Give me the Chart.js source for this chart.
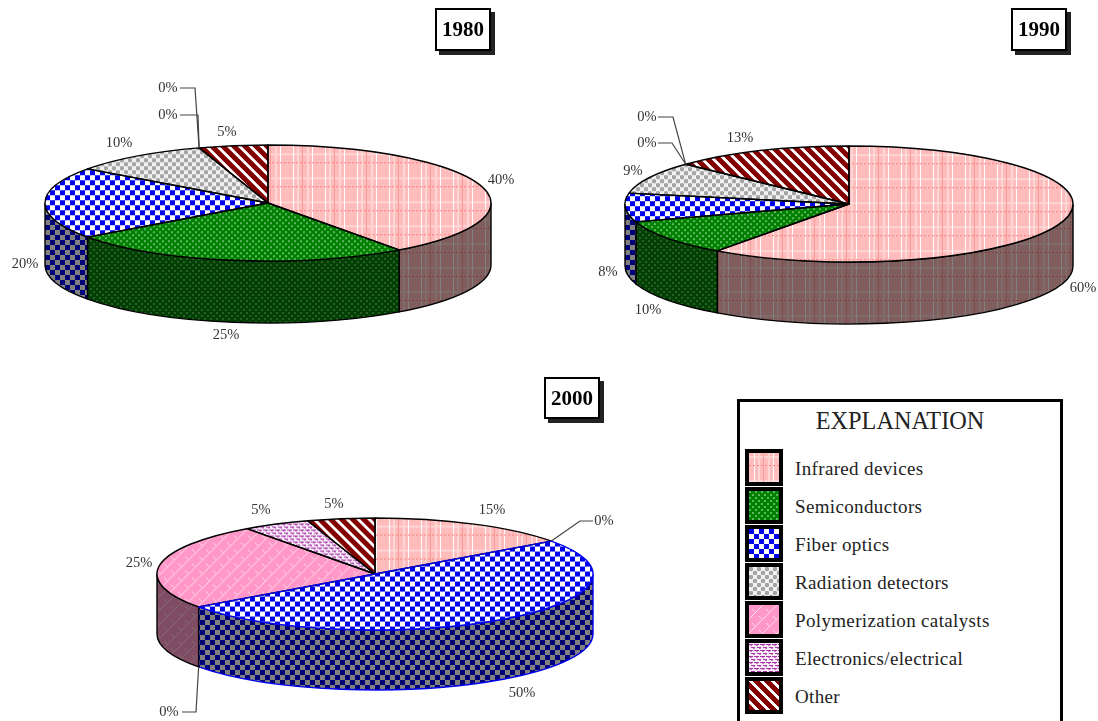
<!DOCTYPE html>
<html>
<head>
<meta charset="utf-8">
<title>Market share by application</title>
<script src="https://cdn.jsdelivr.net/npm/chart.js@4/dist/chart.umd.js"></script>
<style>
  html, body { margin: 0; padding: 0; background: #fff; }
  #page { position: relative; width: 1098px; height: 721px; overflow: hidden; background: #fff;
          font-family: "Liberation Serif", serif; color: #222; filter: blur(0.6px); }
  #page canvas { position: absolute; left: 0; top: 0; }
  .year { position: absolute; box-sizing: border-box; border: 2px solid #000; background: #fff;
          box-shadow: 4px 4px 0 #222; font-weight: bold; font-size: 21px; text-align: center; color: #000; }
  #legend { position: absolute; left: 737px; top: 399px; width: 326px; height: 340px; box-sizing: border-box;
            border: 3px solid #000; background: #fff; }
  #legend h2 { position: absolute; left: 0; right: 0; top: 4px; margin: 0; text-align: center;
               font-weight: normal; font-size: 24.3px; line-height: 30px; }
  .swatch { position: absolute; left: 5px; width: 38px; height: 37px; box-sizing: border-box; border: 4px solid #000; }
  .item { position: absolute; left: 55px; font-size: 19px; line-height: 24px; letter-spacing: 0.35px; white-space: nowrap; }
</style>
</head>
<body>
<div id="page">
  <canvas id="pie-1980" width="1098" height="721"></canvas>
  <canvas id="pie-1990" width="1098" height="721"></canvas>
  <canvas id="pie-2000" width="1098" height="721"></canvas>
  <div class="year" style="left:435px;top:8px;width:56px;height:43px;line-height:39px">1980</div>
  <div class="year" style="left:1011px;top:8px;width:56px;height:43px;line-height:39px">1990</div>
  <div class="year" style="left:544px;top:377px;width:56px;height:42px;line-height:38px">2000</div>
  <div id="legend"><h2>EXPLANATION</h2></div>
</div>

<script>
/* ── Data ─────────────────────────────────────────────────────── */
const categories = ['Infrared devices', 'Semiconductors', 'Fiber optics', 'Radiation detectors',
                    'Polymerization catalysts', 'Electronics/electrical', 'Other'];
const values1980 = [40, 25, 20, 10, 0, 0, 5];
const values1990 = [60, 10, 8, 9, 0, 0, 13];
const values2000 = [15, 0, 50, 0, 25, 5, 5];

/* ── Hatch tiles ──────────────────────────────────────────────── */
function makeTile(w, h, paint, shade) {
  const c = document.createElement('canvas');
  c.width = w; c.height = h;
  const g = c.getContext('2d');
  paint(g, w, h);
  if (shade) {
    const img = g.getImageData(0, 0, w, h);
    for (let i = 0; i < img.data.length; i += 4) {
      img.data[i] *= 0.5; img.data[i + 1] *= 0.5; img.data[i + 2] *= 0.5;
    }
    g.putImageData(img, 0, 0);
  }
  return c;
}

const painters = [
  // infrared: pink plaid
  (g, w, h) => {
    g.fillStyle = '#ffbcbc'; g.fillRect(0, 0, w, h);
    g.fillStyle = '#ffd6d6'; g.fillRect(0, 3, w, 2); g.fillRect(9, 0, 2, h); g.fillRect(19, 0, 2, h);
    g.fillStyle = '#ffffff'; g.fillRect(5, 0, 1, h); g.fillRect(24, 0, 1, h);
    g.fillStyle = '#ff9a9a'; g.fillRect(14, 0, 1, h);
    g.fillStyle = '#ff8080';
    for (let x = 0; x < w; x += 4) g.fillRect(x, 12, 2, 1);
  },
  // semiconductors: green with pale dots
  (g, w, h) => {
    g.fillStyle = '#007f00'; g.fillRect(0, 0, w, h);
    g.fillStyle = '#5cb85c';
    g.fillRect(0, 0, 2, 2); g.fillRect(3, 3, 2, 2);
  },
  // fiber optics: blue checks
  (g, w, h) => {
    g.fillStyle = '#ffffff'; g.fillRect(0, 0, w, h);
    g.fillStyle = '#0000f0';
    g.fillRect(0, 0, 5, 5); g.fillRect(5, 5, 5, 5);
  },
  // radiation detectors: grey blobs on white
  (g, w, h) => {
    g.fillStyle = '#f2f2f2'; g.fillRect(0, 0, w, h);
    g.fillStyle = '#a4a4a4';
    g.beginPath(); g.arc(2, 2, 2.2, 0, Math.PI * 2); g.arc(6, 6, 2.2, 0, Math.PI * 2); g.fill();
  },
  // polymerization catalysts: pink brickwork
  (g, w, h) => {
    g.fillStyle = '#ff98c8'; g.fillRect(0, 0, w, h);
    g.strokeStyle = '#ffd8ea'; g.lineWidth = 1;
    g.beginPath();
    g.moveTo(0, h); g.lineTo(w, 0);
    g.moveTo(3, 4); g.lineTo(6, 7);
    g.moveTo(10, 11); g.lineTo(13, 14);
    g.stroke();
  },
  // electronics/electrical: purple dashes
  (g, w, h) => {
    g.fillStyle = '#f8ecf8'; g.fillRect(0, 0, w, h);
    g.fillStyle = '#a838a8';
    g.fillRect(0, 1, 4, 1); g.fillRect(5, 1, 1, 1); g.fillRect(2, 4, 4, 1);
    g.fillStyle = '#c878c8';
    g.fillRect(1, 2, 2, 1); g.fillRect(4, 5, 2, 1);
  },
  // other: dark red with white back-slanted stripes
  (g, w, h) => {
    g.fillStyle = '#820000'; g.fillRect(0, 0, w, h);
    g.fillStyle = '#ffffff';
    for (let y = 0; y < h; y++) {
      g.fillRect(y, y, 4, 1);
      if (y + 4 > w) g.fillRect(y - w, y, 4, 1);
    }
  },
];
const tileSizes = [[32, 24], [6, 6], [10, 10], [8, 8], [14, 14], [6, 6], [11, 11]];

function tileFor(i, shade) {
  return makeTile(tileSizes[i][0], tileSizes[i][1], painters[i], shade);
}

/* ── Tilted pie: Chart.js lays out the arcs, the plugin squashes them and adds the wall ── */
const tiltPlugin = {
  id: 'tilt',
  beforeDatasetsDraw(chart, args, opts) {
    const ctx = chart.ctx;
    const arcs = chart.getDatasetMeta(0).data;
    const { x: cx, y: cy, outerRadius: r } = arcs[0];
    const ry = r * opts.squash;

    // side wall, only the front half of the rim shows
    arcs.forEach((arc, i) => {
      const a0 = Math.max(arc.startAngle, 0);
      const a1 = Math.min(arc.endAngle, Math.PI);
      if (a1 <= a0) return;
      ctx.save();
      ctx.beginPath();
      ctx.ellipse(cx, cy, r, ry, 0, a0, a1);
      ctx.ellipse(cx, cy + opts.depth, r, ry, 0, a1, a0, true);
      ctx.closePath();
      ctx.fillStyle = ctx.createPattern(tileFor(i, true), 'repeat');
      ctx.fill();
      ctx.lineWidth = 1.4;
      ctx.strokeStyle = i === opts.blueSlice ? '#0000f0' : '#000';
      ctx.stroke();
      ctx.restore();
    });

    ctx.save();
    ctx.translate(cx, cy);
    ctx.scale(1, opts.squash);
    ctx.translate(-cx, -cy);
  },
  afterDatasetsDraw(chart, args, opts) {
    const ctx = chart.ctx;
    ctx.restore();

    const arcs = chart.getDatasetMeta(0).data;
    const values = chart.data.datasets[0].data;
    const { x: cx, y: cy, outerRadius: r } = arcs[0];
    const ry = r * opts.squash;

    // slice outlines drawn unsquashed so the pen stays even
    const order = arcs.map((a, i) => i).filter(i => i !== opts.blueSlice);
    if (opts.blueSlice >= 0) order.push(opts.blueSlice);
    order.forEach(i => {
      const arc = arcs[i];
      if (arc.endAngle <= arc.startAngle) return;
      ctx.save();
      ctx.beginPath();
      ctx.moveTo(cx, cy);
      ctx.ellipse(cx, cy, r, ry, 0, arc.startAngle, arc.endAngle);
      ctx.closePath();
      ctx.lineWidth = 1.4;
      ctx.lineJoin = 'round';
      ctx.strokeStyle = i === opts.blueSlice ? '#0000f0' : '#000';
      ctx.stroke();
      ctx.restore();
    });

    // leader lines for the empty slices
    ctx.save();
    ctx.strokeStyle = '#444';
    ctx.lineWidth = 1.2;
    opts.leaders.forEach(l => {
      const a = arcs[l.slice].startAngle;
      ctx.beginPath();
      ctx.moveTo(l.from[0], l.from[1]);
      ctx.lineTo(l.elbow[0], l.elbow[1]);
      ctx.lineTo(cx + r * Math.cos(a), cy + ry * Math.sin(a) + (l.wall ? opts.depth : 0));
      ctx.stroke();
    });
    ctx.restore();

    // percent labels
    ctx.save();
    ctx.font = '14.5px "Liberation Serif", serif';
    ctx.fillStyle = '#333';
    ctx.textAlign = 'center';
    ctx.textBaseline = 'middle';
    values.forEach((v, i) => {
      const p = opts.labelAt[i];
      ctx.fillText(v + '%', p[0], p[1]);
    });
    ctx.restore();
  },
};

function drawPie(id, values, geom) {
  const W = 1098, H = 721;
  const cv = document.getElementById(id);
  const squash = geom.ry / geom.rx;
  const patterns = categories.map((c, i) => {
    const p = cv.getContext('2d').createPattern(tileFor(i, false), 'repeat');
    p.setTransform(new DOMMatrix().scale(1, 1 / squash));
    return p;
  });
  return new Chart(cv, {
    type: 'pie',
    data: {
      labels: categories,
      datasets: [{
        data: values,
        backgroundColor: patterns,
        borderWidth: 0,
        radius: geom.rx,
        clip: false,
      }],
    },
    options: {
      responsive: false,
      animation: false,
      events: [],
      layout: {
        padding: {
          left: Math.max(2 * geom.cx - W, 0),
          right: Math.max(W - 2 * geom.cx, 0),
          top: Math.max(2 * geom.cy - H, 0),
          bottom: Math.max(H - 2 * geom.cy, 0),
        },
      },
      plugins: {
        legend: { display: false },
        tooltip: { enabled: false },
        tilt: {
          squash,
          depth: geom.depth,
          blueSlice: geom.blueSlice ?? -1,
          labelAt: geom.labelAt,
          leaders: geom.leaders,
        },
      },
    },
    plugins: [tiltPlugin],
  });
}

drawPie('pie-1980', values1980, {
  cx: 268, cy: 203, rx: 223, ry: 58, depth: 62,
  labelAt: [[501, 180], [226, 335], [25, 264], [119, 143], [168, 115], [168, 88], [227, 132]],
  leaders: [
    { from: [180, 88], elbow: [195, 88], slice: 6 },
    { from: [180, 115], elbow: [198, 115], slice: 6 },
  ],
});

drawPie('pie-1990', values1990, {
  cx: 849, cy: 204, rx: 224, ry: 58, depth: 62,
  labelAt: [[1083, 288], [648, 310], [608, 272], [633, 171], [647, 143], [647, 117], [740, 138]],
  leaders: [
    { from: [658, 117], elbow: [673, 117], slice: 6 },
    { from: [658, 143], elbow: [672, 143], slice: 6 },
  ],
});

drawPie('pie-2000', values2000, {
  cx: 375, cy: 574, rx: 218, ry: 56, depth: 60, blueSlice: 2,
  labelAt: [[492, 510], [604, 521], [522, 693], [169, 712], [139, 563], [261, 510], [334, 504]],
  leaders: [
    { from: [593, 521], elbow: [580, 521], slice: 2 },
    { from: [182, 712], elbow: [196, 712], slice: 4, wall: true },
  ],
});

/* ── Legend ───────────────────────────────────────────────────── */
const legend = document.getElementById('legend');
categories.forEach((name, i) => {
  const sw = document.createElement('div');
  sw.className = 'swatch';
  sw.style.top = (47 + i * 38) + 'px';
  sw.style.backgroundImage = `url(${tileFor(i, false).toDataURL()})`;
  legend.appendChild(sw);

  const item = document.createElement('div');
  item.className = 'item';
  item.style.top = (55 + i * 38) + 'px';
  item.textContent = name;
  legend.appendChild(item);
});
</script>
</body>
</html>
